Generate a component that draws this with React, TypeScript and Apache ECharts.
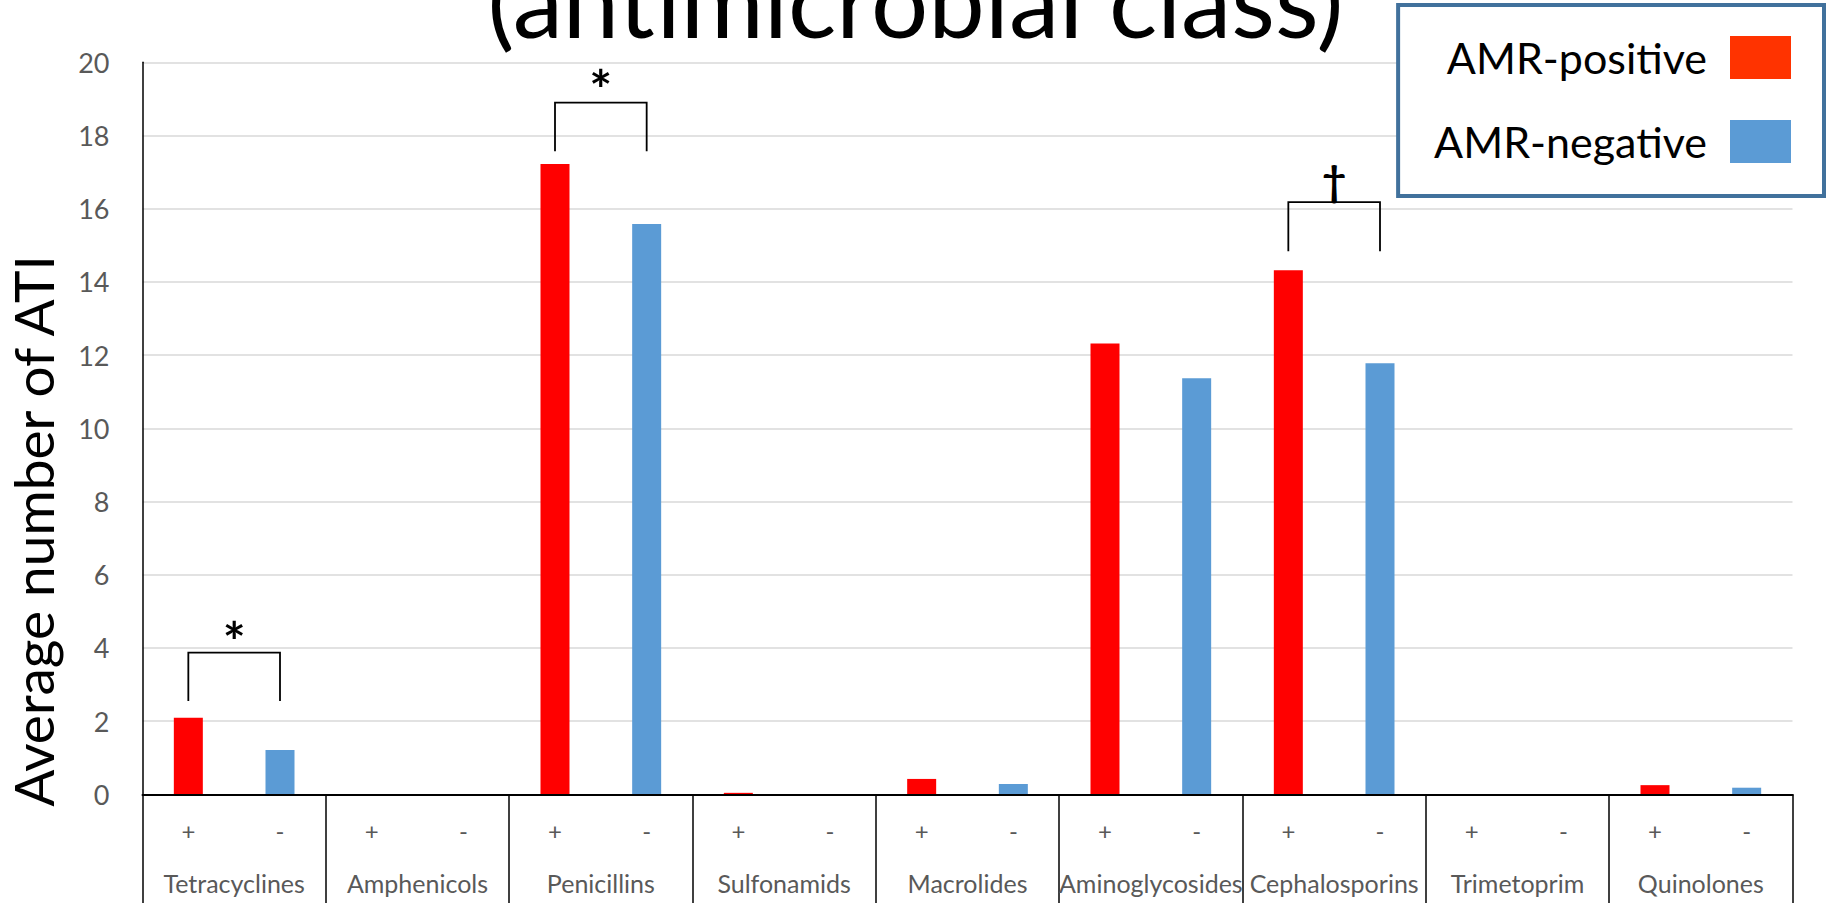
import React, { useEffect, useRef } from 'react';
import * as echarts from 'echarts';

const FONT = 'Lato, "Noto Sans", sans-serif';

// Antimicrobial classes (group labels) and AMR sub-groups
const classes = [
  'Tetracyclines',
  'Amphenicols',
  'Penicillins',
  'Sulfonamids',
  'Macrolides',
  'Aminoglycosides',
  'Cephalosporins',
  'Trimetoprim',
  'Quinolones',
];
const signs = ['+', '-'];

// Average number of ATI
const positive = [2.09, 0, 17.22, 0.04, 0.42, 12.32, 14.32, 0, 0.25];
const negative = [1.21, 0, 15.58, 0, 0.28, 11.37, 11.78, 0, 0.18];

// Significance brackets
const bracketClass = [0, 2, 6];
const bracketBase = [2.55, 17.57, 14.84];
const bracketTop = [3.87, 18.9, 16.18];
const bracketMark = ['*', '*', '\u2020'];
const bracketMarkValue = [4.52, 19.6, 16.7];

const subCategories = classes.flatMap(() => signs);
const positiveData = classes.flatMap((_, i) => [positive[i], '-']);
const negativeData = classes.flatMap((_, i) => ['-', negative[i]]);
const bracketData = bracketClass.map((c, i) => [
  c * 2,
  c * 2 + 1,
  bracketBase[i],
  bracketTop[i],
  bracketMarkValue[i],
]);

export default function App() {
  const ref = useRef<HTMLDivElement>(null);

  useEffect(() => {
    document.body.style.margin = '0';
    if (!ref.current) return;
    const chart = echarts.init(ref.current, null, { renderer: 'svg' });
    const option: any = {
      animation: false,
      backgroundColor: '#ffffff',
      textStyle: { fontFamily: FONT },
      title: {
        text: '(antimicrobial class)',
        left: 'center',
        top: -57,
        textStyle: { fontSize: 101, fontWeight: 'normal', color: '#000', fontFamily: FONT },
      },
      legend: {
        orient: 'vertical',
        right: 7,
        top: 5,
        align: 'right',
        itemWidth: 61,
        itemHeight: 43,
        itemGap: 41,
        padding: [31, 33, 33, 36],
        borderColor: '#41719c',
        borderWidth: 4,
        backgroundColor: '#ffffff',
        icon: 'rect',
        selectedMode: false,
        textStyle: { fontSize: 43, color: '#000', fontFamily: FONT, padding: [0, 18, 0, 0] },
        data: [
          { name: 'AMR-positive', itemStyle: { color: '#ff3300' } },
          { name: 'AMR-negative', itemStyle: { color: '#5b9bd5' } },
        ],
      },
      grid: { left: 142.5, right: 38.5, top: 62.3, bottom: 108.7, containLabel: false },
      xAxis: [
        {
          type: 'category',
          data: subCategories,
          position: 'bottom',
          axisLine: { show: true, lineStyle: { color: '#000', width: 2 } },
          axisTick: { show: false },
          axisLabel: { interval: 0, fontSize: 24, color: '#595959', margin: 24, fontFamily: FONT },
          splitLine: { show: false },
          z: 5,
        },
        {
          type: 'category',
          data: classes,
          position: 'bottom',
          axisLine: { show: false },
          axisTick: { show: true, length: 110, lineStyle: { color: '#000', width: 1.5 } },
          axisLabel: { interval: 0, fontSize: 25, color: '#595959', margin: 76, fontFamily: FONT },
          splitLine: { show: false },
        },
      ],
      yAxis: {
        type: 'value',
        min: 0,
        max: 20,
        interval: 2,
        axisLine: { show: true, lineStyle: { color: '#000', width: 1.5 } },
        axisTick: { show: false },
        axisLabel: { fontSize: 27, color: '#595959', margin: 33, fontFamily: FONT },
        splitLine: { lineStyle: { color: '#d9d9d9', width: 1.5 } },
      },
      graphic: [
        {
          type: 'text',
          x: 33,
          y: 531,
          rotation: Math.PI / 2,
          style: {
            text: 'Average number of ATI',
            fontSize: 55,
            fontFamily: FONT,
            fill: '#000',
            align: 'center',
            verticalAlign: 'middle',
          },
        },
      ],
      series: [
        {
          name: 'AMR-positive',
          type: 'bar',
          xAxisIndex: 0,
          data: positiveData,
          barWidth: 29,
          barGap: '-100%',
          itemStyle: { color: '#ff0000' },
        },
        {
          name: 'AMR-negative',
          type: 'bar',
          xAxisIndex: 0,
          data: negativeData,
          barWidth: 29,
          barGap: '-100%',
          itemStyle: { color: '#5b9bd5' },
        },
        {
          name: 'significance',
          type: 'custom',
          xAxisIndex: 0,
          silent: true,
          encode: { x: [0, 1], y: [2, 3, 4] },
          data: bracketData,
          renderItem: (params: any, api: any) => {
            const i = params.dataIndex;
            const x0 = api.value(0);
            const x1 = api.value(1);
            const pL0 = api.coord([x0, api.value(2)]);
            const pL1 = api.coord([x0, api.value(3)]);
            const pR1 = api.coord([x1, api.value(3)]);
            const pR0 = api.coord([x1, api.value(2)]);
            const pm = api.coord([x0, api.value(4)]);
            const mark = bracketMark[i];
            const isStar = mark === '*';
            return {
              type: 'group',
              children: [
                {
                  type: 'polyline',
                  shape: { points: [pL0, pL1, pR1, pR0] },
                  style: { stroke: '#000', lineWidth: 1.8, fill: 'none' },
                },
                {
                  type: 'text',
                  x: (pL0[0] + pR0[0]) / 2,
                  y: pm[1] + (isStar ? 12 : -3),
                  style: {
                    text: mark,
                    fontSize: isStar ? 54 : 42,
                    fontWeight: 'bold',
                    fontFamily: FONT,
                    fill: '#000',
                    align: 'center',
                    verticalAlign: 'middle',
                  },
                },
              ],
            };
          },
        },
      ],
    };
    chart.setOption(option);
    return () => chart.dispose();
  }, []);

  return (
    <div
      ref={ref}
      style={{ position: 'absolute', left: 0, top: 0, width: 1831, height: 903 }}
    />
  );
}
